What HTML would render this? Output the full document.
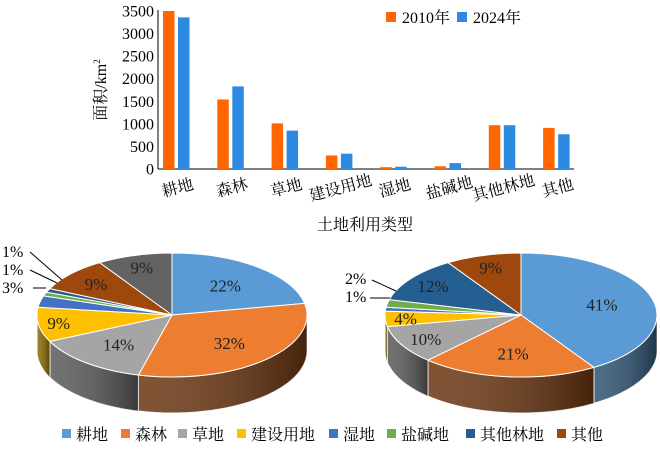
<!DOCTYPE html><html><head><meta charset="utf-8"><style>
body{margin:0;background:#fff;width:660px;height:444px;overflow:hidden}
text{font-family:"Liberation Serif","Noto Serif CJK SC",serif}
</style></head><body>
<svg id="s" width="660" height="444" xmlns="http://www.w3.org/2000/svg">
<defs>
<linearGradient id="gs" x1="0" x2="1"><stop offset="0" stop-color="#fff" stop-opacity="0.15"/><stop offset="1" stop-color="#000" stop-opacity="0.35"/></linearGradient>
</defs>
</svg>
<script>
const S=document.getElementById('s');
let h='';
const y0=169,k=158/3500;
h+='<line x1="158" y1="10" x2="158" y2="169" stroke="#000"/><line x1="158" y1="169" x2="574" y2="169" stroke="#000"/>';
for(let v=0;v<=3500;v+=500){const y=y0-v*k;h+=`<text x="154" y="${y+5.5}" font-size="16" text-anchor="end">${v}</text>`;}
const vals=[[3500,3360],[1540,1830],[1010,850],[300,340],[40,50],[60,130],[970,970],[910,770]];
const labs=['耕地','森林','草地','建设用地','湿地','盐碱地','其他林地','其他'];
vals.forEach((p,i)=>{const x=163+i*54.3;
h+=`<rect x="${x}" y="${y0-p[0]*k}" width="11.5" height="${p[0]*k}" fill="#ff6600"/>`;
h+=`<rect x="${x+15}" y="${y0-p[1]*k}" width="11.5" height="${p[1]*k}" fill="#2e8ae0"/>`;
const cx=x+13;h+=`<text transform="translate(${cx+3},${193}) rotate(-15)" font-size="16" text-anchor="middle">${labs[i]}</text>`;});
h+='<text x="365" y="230" font-size="16" text-anchor="middle">土地利用类型</text>';
h+='<text transform="translate(106,90) rotate(-90)" font-size="16" text-anchor="middle">面积/km<tspan font-size="9" dy="-6">2</tspan></text>';
h+='<rect x="386" y="12" width="10" height="10" fill="#ff6600"/><text x="402" y="23" font-size="16">2010年</text>';
h+='<rect x="457" y="12" width="10" height="10" fill="#2e8ae0"/><text x="473" y="23" font-size="16">2024年</text>';
function pie(cx,cy,rx,ry,d,sl){
 const P=a=>[cx+rx*Math.sin(a),cy-ry*Math.cos(a)];
 let a=0,segs=[];
 sl.forEach(s=>{const b=a+s[0]/100*2*Math.PI;segs.push([a,b,s]);a=b;});
 segs.forEach(([a,b,s])=>{const lo=Math.max(a,Math.PI/2),hi=Math.min(b,3*Math.PI/2);if(hi<=lo)return;
  const n=30;let top=[],bot=[];
  for(let i=0;i<=n;i++){const t=lo+(hi-lo)*i/n;const q=P(t);top.push(q);bot.push([q[0],q[1]+d]);}
  const p='M'+top.map(q=>q.join(',')).join('L')+'L'+bot.reverse().map(q=>q.join(',')).join('L')+'Z';
  h+=`<path d="${p}" fill="${s[2]}" stroke="#fff" stroke-width="1"/>`;
  h+=`<path d="${p}" fill="url(#gs)"/>`;});
 segs.forEach(([a,b,s])=>{const p1=P(a),p2=P(b);const large=(b-a)>Math.PI?1:0;
  h+=`<path d="M${cx},${cy}L${p1}A${rx},${ry} 0 ${large} 1 ${p2}Z" fill="${s[1]}" stroke="#fff" stroke-width="1"/>`;
  if(s[3]){const m=(a+b)/2;const r=s[4]||0.62;const q=[cx+rx*r*Math.sin(m),cy-ry*r*Math.cos(m)];
   h+=`<text x="${q[0]}" y="${q[1]+6}" font-size="17" text-anchor="middle" fill="#222">${s[0]}%</text>`;}});
}
const C={b:['#5b9bd5','#2f5373'],o:['#ed7d31','#6b3510'],g:['#a5a5a5','#595959'],y:['#ffc000','#8a6a00'],m:['#4472c4','#26406e'],gr:['#70ad47','#3b5e25'],n:['#255e91','#15334f'],br:['#9e480e','#4f2407'],dg:['#636363','#333']};
const mk=(p,c,l,r)=>[p,C[c][0],C[c][1],l,r];
pie(172,315,135,62,36,[mk(22,'b',1),mk(32,'o',1),mk(14,'g',1),mk(9,'y',1,0.85),mk(3,'m',0),mk(1,'gr',0),mk(1,'n',0),mk(9,'br',1,0.75),mk(9,'dg',1,0.8)]);
pie(521,315,136,62,36,[mk(41,'b',1),mk(21,'o',1),mk(10,'g',1,0.8),mk(4,'y',1,0.85),mk(1,'m',0),mk(2,'gr',0),mk(12,'n',1,0.8),mk(9,'br',1,0.8)]);
h+='<text x="2" y="257" font-size="16">1%</text><text x="2" y="275" font-size="16">1%</text><text x="2" y="293" font-size="16">3%</text>';
h+='<line x1="30" y1="252" x2="62" y2="280" stroke="#000"/><line x1="30" y1="270" x2="57" y2="283" stroke="#000"/><line x1="33" y1="288" x2="46" y2="288" stroke="#000"/>';
h+='<text x="345" y="284" font-size="16">2%</text><text x="345" y="302" font-size="16">1%</text>';
h+='<line x1="372" y1="280" x2="396" y2="291" stroke="#000"/><line x1="370" y1="298" x2="390" y2="298" stroke="#000"/>';
const L=[['耕地','#5b9bd5',62],['森林','#ed7d31',121],['草地','#a5a5a5',178],['建设用地','#ffc000',237],['湿地','#4472c4',329],['盐碱地','#70ad47',387],['其他林地','#255e91',466],['其他','#9e480e',557]];
L.forEach(([t,c,x])=>{h+=`<rect x="${x}" y="429" width="9" height="9" fill="${c}"/><text x="${x+14}" y="440" font-size="16">${t}</text>`;});
S.insertAdjacentHTML('beforeend',h);
</script>
</body></html>
